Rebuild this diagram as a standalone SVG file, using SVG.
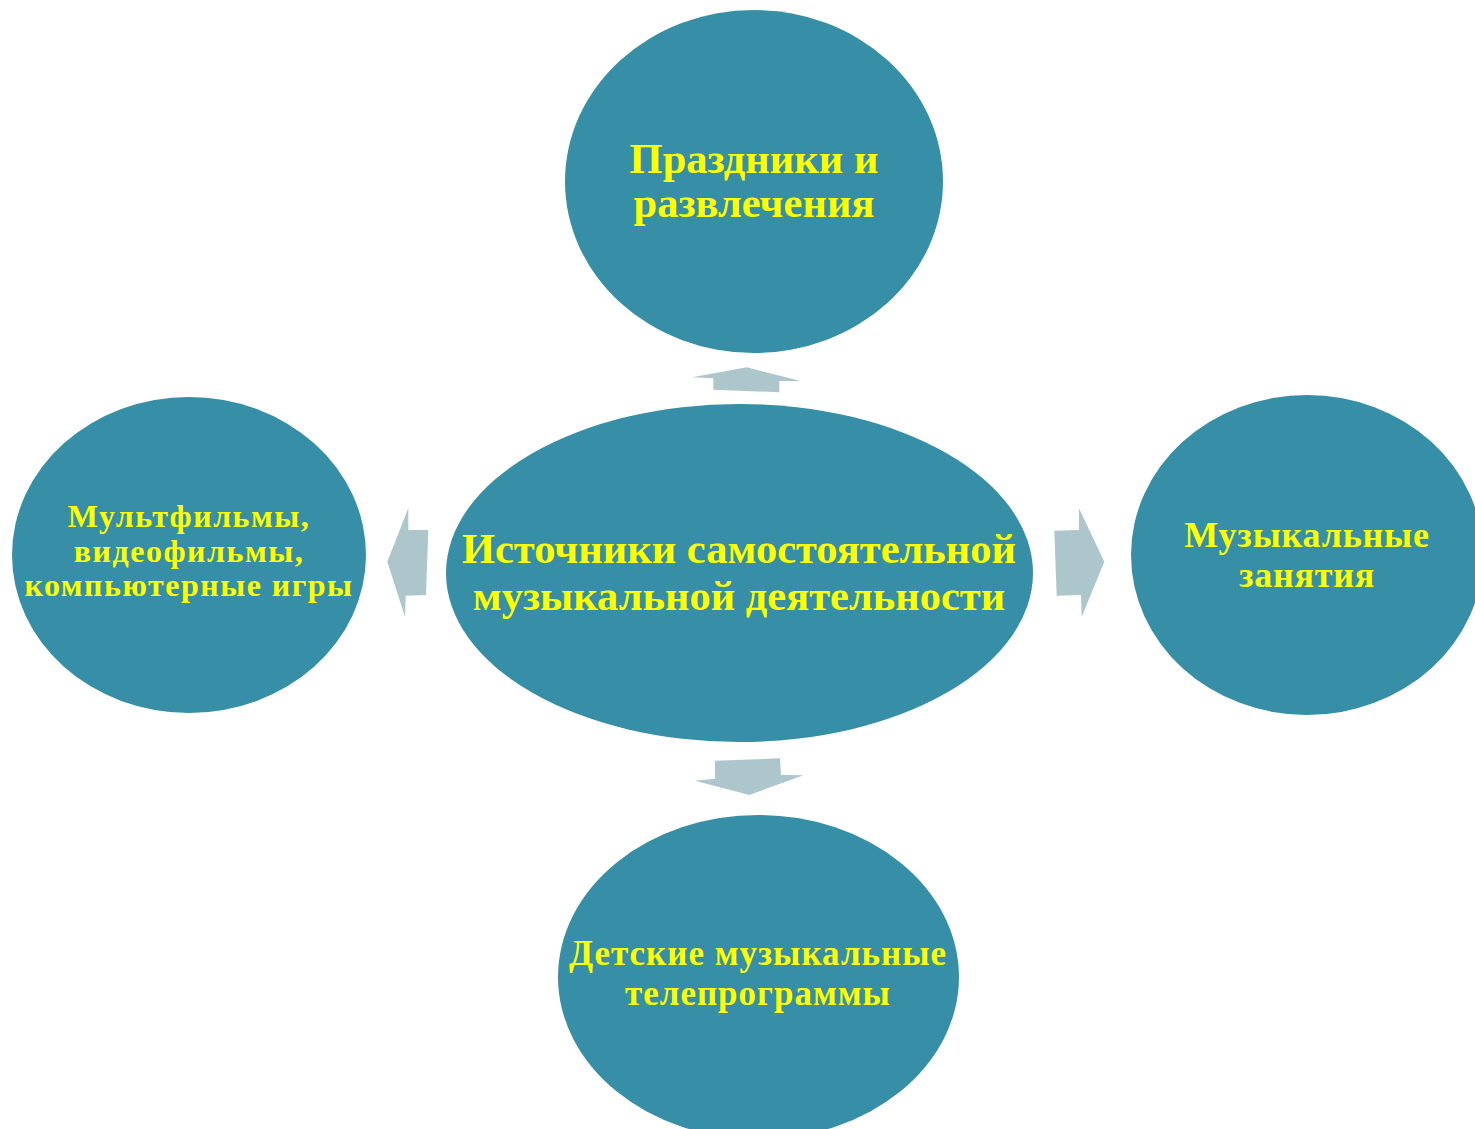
<svg xmlns="http://www.w3.org/2000/svg" width="1475" height="1129" viewBox="0 0 1475 1129">
<style>
.node{fill:#368fa6;}
.arrow{fill:#adc6cc;}
text{font-family:"Liberation Serif","Times New Roman",serif;font-weight:bold;fill:#ffff00;text-anchor:middle;}
</style>
<rect width="1475" height="1129" fill="#ffffff"/>
<g id="connectors">
<polygon class="arrow" points="746.7,367.3 800.7,381 779.3,381 779.3,392.3 713.3,389.7 713.3,378.3 692.3,377.3"/>
<polygon class="arrow" points="715,760.7 780,758.3 781,775 803.3,775.3 749.3,795 695,780.7 715,778.7"/>
<polygon class="arrow" points="1054.3,530.7 1079,530 1079,508.3 1104.3,561.7 1081.7,616.7 1081,595 1056.7,595.7"/>
<polygon class="arrow" points="428.3,530 408.3,530 408.3,508.3 387.3,561.7 405,616.7 405.7,595.7 426,595"/>
</g>
<g id="node-top">
<ellipse class="node" cx="754" cy="181.5" rx="189" ry="171.5"/>
<text font-size="42.5"><tspan x="754" y="173">Праздники и</tspan><tspan x="754" y="217">развлечения</tspan></text>
</g>
<g id="node-center">
<ellipse class="node" cx="739.5" cy="573" rx="293.5" ry="169"/>
<text font-size="42.5"><tspan x="739" y="563">Источники самостоятельной</tspan><tspan x="739" y="610">музыкальной деятельности</tspan></text>
</g>
<g id="node-left">
<ellipse class="node" cx="189" cy="555" rx="177" ry="158"/>
<text font-size="32" letter-spacing="1.5"><tspan x="189" y="527">Мультфильмы,</tspan><tspan x="189" y="562">видеофильмы,</tspan><tspan x="189" y="596">компьютерные игры</tspan></text>
</g>
<g id="node-right">
<ellipse class="node" cx="1307" cy="555" rx="176" ry="160"/>
<text font-size="36" letter-spacing="0.8"><tspan x="1307" y="547">Музыкальные</tspan><tspan x="1307" y="587">занятия</tspan></text>
</g>
<g id="node-bottom">
<ellipse class="node" cx="758.5" cy="977" rx="200.5" ry="162"/>
<text font-size="35" letter-spacing="1"><tspan x="758" y="965">Детские музыкальные</tspan><tspan x="758" y="1005">телепрограммы</tspan></text>
</g>
</svg>
